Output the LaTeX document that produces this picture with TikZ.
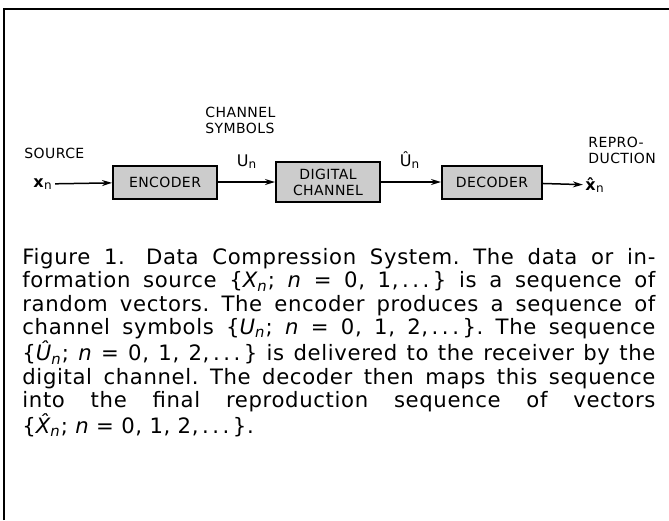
\documentclass[tikz,border=0pt]{standalone}
\usepackage{fontspec}
\setmainfont[LetterSpace=3]{DejaVu Sans}
\usetikzlibrary{positioning,arrows.meta}

\begin{document}
\begin{tikzpicture}[x=0.5pt,y=-0.5pt,
  every node/.style={font=\fontsize{7}{8}\selectfont,align=left,inner sep=1pt},
  blk/.style={draw,line width=1pt,fill=gray!40,align=center,minimum width=52pt,minimum height=16.5pt},
  sym/.style={font=\fontsize{8}{9}\selectfont},
  arr/.style={-{Stealth[length=5pt,width=3pt]},line width=0.75pt}
]
  \useasboundingbox (0,0) rectangle (669,520);
  \draw[line width=1pt] (4,520) -- (4,9) -- (669,9);

  \node[blk] (enc) at (165,182) {ENCODER};
  \node[blk,minimum height=20pt] (chan) at (328,182) {DIGITAL\\CHANNEL};
  \node[blk,minimum width=50pt] (dec) at (492,182) {DECODER};
  \node[anchor=west] (src) at (22,153) {SOURCE};
  \node[anchor=west] (sym) at (203,120) {CHANNEL\\SYMBOLS};
  \node[anchor=west] (rep) at (586,150) {REPRO-\\DUCTION};
  \node[sym] (xin) at (43,184) {\textbf{x}\textsubscript{n}};
  \node[sym] (xout) at (595,185) {\textbf{\^x}\textsubscript{n}};
  \node[sym] (un) at (247,162) {U\textsubscript{n}};
  \node[sym] (uhat) at (410,160) {\^U\textsubscript{n}};
  \draw[arr] (xin) -- (enc);
  \draw[arr] (enc) -- (chan);
  \draw[arr] (chan) -- (dec);
  \draw[arr] (dec) -- (xout);

  \node[anchor=north west,text width=316.5pt,align=justify,
    font=\fontsize{10.6}{11.7}\selectfont\frenchspacing] (cap) at (20,246)
    {Figure 1.\quad Data Compression System. The data or in-\linebreak
     formation source \{{\itshape X}\textsubscript{\itshape n}; {\itshape n} = 0, 1,\,.\,.\,.\,\} is a sequence of\linebreak
     random vectors. The encoder produces a sequence of\linebreak
     channel symbols \{{\itshape U}\textsubscript{\itshape n}; {\itshape n} = 0, 1, 2,\,.\,.\,.\,\}. The sequence\linebreak
     \{{\itshape\^U}\textsubscript{\itshape n}; {\itshape n} = 0, 1, 2,\,.\,.\,.\,\} is delivered to the receiver by the\linebreak
     digital channel. The decoder then maps this sequence\linebreak
     into the final reproduction sequence of vectors\linebreak
     \{{\itshape\^X}\textsubscript{\itshape n}; {\itshape n} = 0, 1, 2,\,.\,.\,.\,\}.\par};
\end{tikzpicture}
\end{document}
